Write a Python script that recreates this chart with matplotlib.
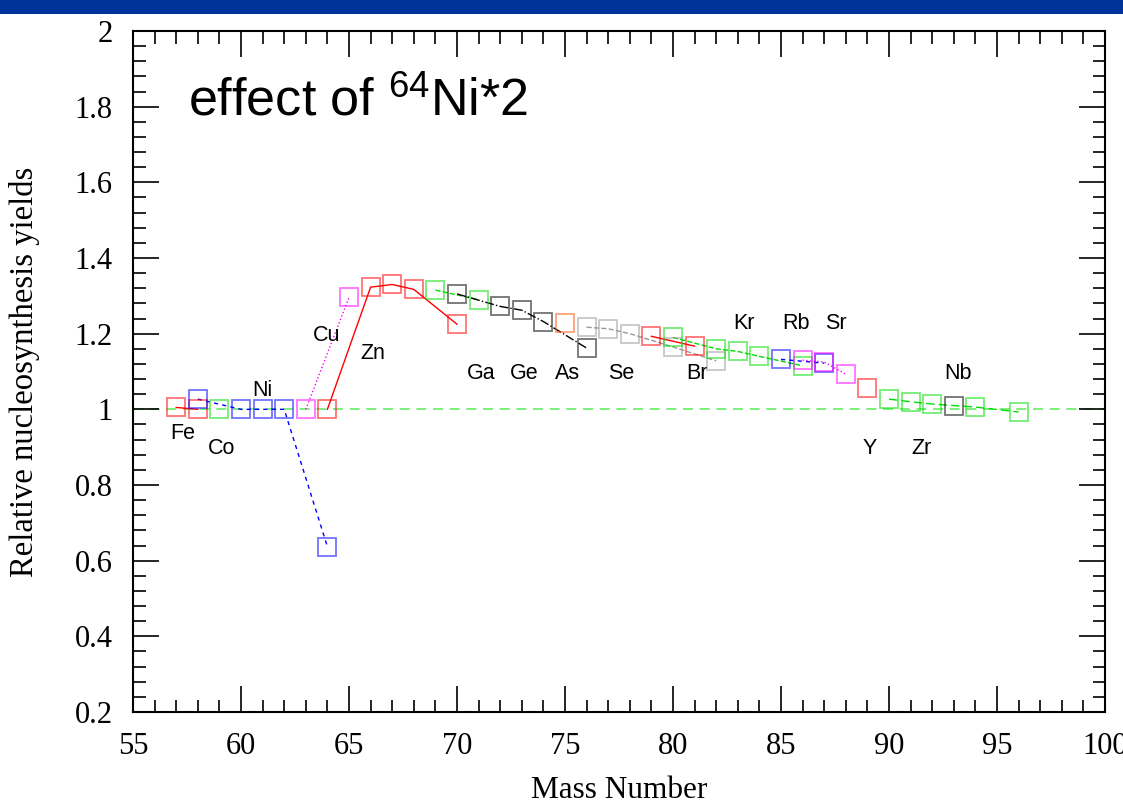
import matplotlib
matplotlib.use("Agg")
import matplotlib.pyplot as plt
from matplotlib.ticker import MultipleLocator, FuncFormatter
from matplotlib.patches import Rectangle

# ---- data (mass number, relative yield) per element ----
fe_a = [57, 58];                  fe_y = [1.005, 1.0]
co_a = [59];                      co_y = [1.0]
ni_a = [58, 60, 61, 62, 64];      ni_y = [1.027, 1.0, 1.0, 1.0, 0.637]
cu_a = [63, 65];                  cu_y = [1.0, 1.296]
zn_a = [64, 66, 67, 68, 70];      zn_y = [1.0, 1.323, 1.33, 1.317, 1.225]
ga_a = [69, 71];                  ga_y = [1.315, 1.29]
ge_a = [70, 72, 73, 74, 76];      ge_y = [1.305, 1.272, 1.262, 1.232, 1.162]
as_a = [75];                      as_y = [1.228]
se_a = [76, 77, 78, 80, 82];      se_y = [1.217, 1.213, 1.2, 1.165, 1.128]
br_a = [79, 81];                  br_y = [1.193, 1.167]
kr_a = [80, 82, 83, 84, 86];      kr_y = [1.19, 1.16, 1.153, 1.14, 1.115]
rb_a = [85, 87];                  rb_y = [1.132, 1.122]
sr_a = [86, 87, 88];              sr_y = [1.13, 1.125, 1.093]
y_a = [89];                       y_y = [1.056]
zr_a = [90, 91, 92, 94, 96];      zr_y = [1.027, 1.02, 1.014, 1.006, 0.993]
nb_a = [93];                      nb_y = [1.01]

labels = ["Fe", "Co", "Ni", "Cu", "Zn", "Ga", "Ge", "As", "Se", "Br",
          "Kr", "Rb", "Sr", "Y", "Zr", "Nb"]
label_x = [57.3, 59.1, 61.0, 63.95, 66.1, 71.1, 73.1, 75.1, 77.6, 81.1,
           83.3, 85.7, 87.55, 89.1, 91.5, 93.2]
label_y = [0.937, 0.897, 1.05, 1.196, 1.148, 1.095, 1.095, 1.095, 1.095, 1.095,
           1.227, 1.227, 1.227, 0.897, 0.897, 1.095]

fig = plt.figure(figsize=(11.23, 8.06), dpi=100)
fig.patches.append(Rectangle((0, 1 - 14 / 806), 1, 14 / 806, transform=fig.transFigure,
                             facecolor="#003399", edgecolor="none", zorder=5))
ax = fig.add_axes([133 / 1123, 1 - 712 / 806, (1105 - 133) / 1123, (712 - 31) / 806])

series = [
    (fe_a, fe_y, "#ff0000", "-"),
    (co_a, co_y, "#00dd00", "--"),
    (ni_a, ni_y, "#0000ff", (0, (3, 3))),
    (cu_a, cu_y, "#ff00ff", ":"),
    (zn_a, zn_y, "#ff0000", "-"),
    (ga_a, ga_y, "#00dd00", "--"),
    (ge_a, ge_y, "#000000", "-."),
    (as_a, as_y, "#ff5500", "-"),
    (se_a, se_y, "#999999", "--"),
    (br_a, br_y, "#ff0000", "-"),
    (kr_a, kr_y, "#00dd00", "--"),
    (rb_a, rb_y, "#0000ff", (0, (3, 3))),
    (sr_a, sr_y, "#ff00ff", ":"),
    (y_a, y_y, "#ff0000", "-"),
    (zr_a, zr_y, "#00dd00", (0, (6, 3))),
    (nb_a, nb_y, "#000000", "-"),
]

ax.axhline(1.0, color="#66ee66", lw=1.2, ls=(0, (6, 4)), zorder=1)

for a, v, c, ls in series:
    ax.plot(a, v, color=c, ls=ls, lw=1.0, zorder=3)
    ax.plot(a, v, ls="none", marker="s", ms=12.5, mfc="none", mec=c,
            mew=1.3, alpha=0.55, zorder=4)

for t, x, yv in zip(labels, label_x, label_y):
    ax.text(x, yv, t, fontsize=15.5, family="Liberation Sans", ha="center",
            va="center", color="black")

plt.rcParams["mathtext.fontset"] = "custom"
plt.rcParams["mathtext.rm"] = "Liberation Sans"
ax.text(57.55, 1.778, r"effect of $\mathrm{^{64}}$Ni*2", fontsize=37.5,
        family="Liberation Sans", ha="left", va="baseline")

ax.set_xlim(55, 100)
ax.set_ylim(0.2, 2.0)
ax.xaxis.set_major_locator(MultipleLocator(5))
ax.xaxis.set_minor_locator(MultipleLocator(1))
ax.yaxis.set_major_locator(MultipleLocator(0.2))
ax.yaxis.set_minor_locator(MultipleLocator(0.04))
ax.yaxis.set_major_formatter(FuncFormatter(lambda v, p: f"{v:g}" if abs(v - round(v)) > 1e-9 else f"{int(round(v))}"))
ax.tick_params(which="both", direction="in", top=True, right=True, width=1.2,
               labelsize=22, pad=14.5)
ax.tick_params(which="major", length=19)
ax.tick_params(which="minor", length=9)
for lab in ax.get_xticklabels() + ax.get_yticklabels():
    lab.set_family("Liberation Serif")
for s in ax.spines.values():
    s.set_linewidth(1.5)

ax.set_xlabel("Mass Number", fontsize=22.5, family="Liberation Serif", va="center")
ax.set_ylabel("Relative nucleosynthesis yields", fontsize=23.5,
              family="Liberation Serif", va="center")
ax.xaxis.set_label_coords(0.5, (712 - 790) / 681)
ax.yaxis.set_label_coords((25 - 133) / 972, 0.5)

fig.savefig("out.png", dpi=100)
